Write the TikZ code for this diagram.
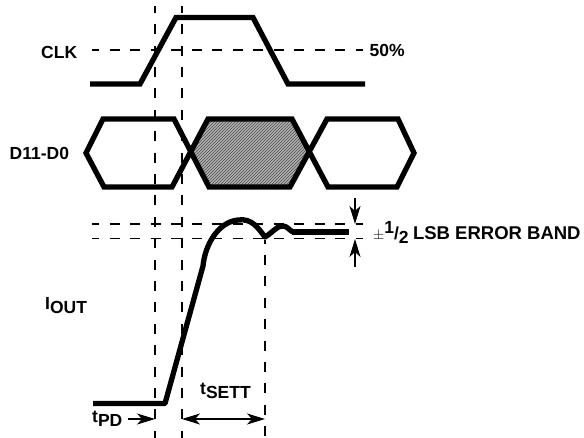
\documentclass[tikz,border=0pt]{standalone}
\usepackage{fontspec}
\setmainfont{Liberation Sans}
\usetikzlibrary{arrows.meta,patterns}
\tikzset{
  wave/.style={line width=5.3pt,line join=miter,black},
  vguide/.style={line width=1.6pt,dash pattern=on 10pt off 11.4pt,dash phase=3.2pt,black},
  hguide/.style={line width=1.5pt,dash pattern=on 10pt off 10.5pt,dash phase=3pt,black},
  dim/.style={line width=1.3pt,{Stealth[length=18pt,width=11pt,inset=5pt]}-{Stealth[length=18pt,width=11pt,inset=5pt]}},
  dimr/.style={line width=1.3pt,-{Stealth[length=18pt,width=11pt,inset=5pt]}},
  lbl/.style={font=\bfseries\fontsize{17.5}{19}\selectfont,inner sep=0pt,text=black},
  hatched/.style={pattern=north east lines,pattern color=black!70}
}
\begin{document}
\begin{tikzpicture}[x=1pt,y=-1pt]
\useasboundingbox (0,0) rectangle (584,438);
% named anchors
\coordinate (g1t) at (155,6); \coordinate (g1b) at (155,438);
\coordinate (g2t) at (182,6); \coordinate (g2b) at (182,438);
\coordinate (g3t) at (265,240); \coordinate (g3b) at (265,438);
\coordinate (m1) at (92,50); \coordinate (m2) at (363,50);
\coordinate (b1l) at (92,224); \coordinate (b1r) at (363,224);
\coordinate (b2l) at (92,238.5); \coordinate (b2r) at (363,238.5);
\coordinate (at) at (355,198); \coordinate (ate) at (355,224);
\coordinate (ab) at (355,267); \coordinate (abe) at (355,239);
\coordinate (ts1) at (182,419); \coordinate (ts2) at (265,419);
\coordinate (tp1) at (128,419); \coordinate (tp2) at (155,419);
% shaded hexagon
\fill[fill=black!30] (208,119) -- (292,119) -- (310,153) -- (290,187) -- (209,187) -- (190,153) -- cycle;
\fill[hatched] (208,119) -- (292,119) -- (310,153) -- (290,187) -- (209,187) -- (190,153) -- cycle;
% guides
\draw[vguide] (g1t) -- (g1b);
\draw[vguide] (g2t) -- (g2b);
\draw[vguide,dash phase=6.4pt] (g3t) -- (g3b);
\draw[hguide] (m1) -- (m2);
\draw[hguide] (b1l) -- (b1r);
\draw[hguide] (b2l) -- (b2r);
% CLK
\draw[wave] (90,84) -- (140,84) -- (176,17.5) -- (253,17.5) -- (288,84) -- (365,84);
% data
\draw[wave] (209,187) -- (174,119) -- (103,119) -- (86,153) -- (104,187) -- (172,187) -- (208,119) -- (292,119) -- (328,187) -- (397,187) -- (414,153) -- (398,119) -- (327,119) -- (290,187) -- (209,187) -- cycle;
% Iout
\draw[wave,line join=round] (93,403.5) -- (165,403.5) -- (203,266)
  .. controls (205,245) and (218,222) .. (238,220)
  .. controls (252,218) and (258,228) .. (265,237)
  .. controls (272,233) and (278,225) .. (283,226)
  .. controls (287,226) and (289,230) .. (293,232);
\draw[line width=5.3pt] (292,232) -- (349,232);
% dimension arrows
\draw[dimr] (at) -- (ate);
\draw[dimr] (ab) -- (abe);
\draw[dim] (ts1) -- (ts2);
\draw[dimr] (tp1) -- (tp2);
% labels
\node[lbl,anchor=west] (clk) at (41,52) {CLK};
\node[lbl,anchor=west] (pct) at (369.5,50) {50\%};
\node[lbl,anchor=west] (dat) at (9.5,153) {D11-D0};
\node[lbl,anchor=west] (band) at (373,232) {{\fontsize{14}{14}\selectfont\mdseries$\pm$}\raisebox{6pt}{1}/\raisebox{-4pt}{2}\hspace{-0.5pt} {\fontsize{18.5}{19}\selectfont LSB ERROR BAND}};
\node[lbl,anchor=west] (iout) at (45,306) {I\raisebox{-4pt}{OUT}};
\node[lbl,anchor=west] (tsett) at (200,391) {t\raisebox{-4pt}{SETT}};
\node[lbl,anchor=west] (tpd) at (92,419) {t\raisebox{-4pt}{PD}};
\end{tikzpicture}
\end{document}
